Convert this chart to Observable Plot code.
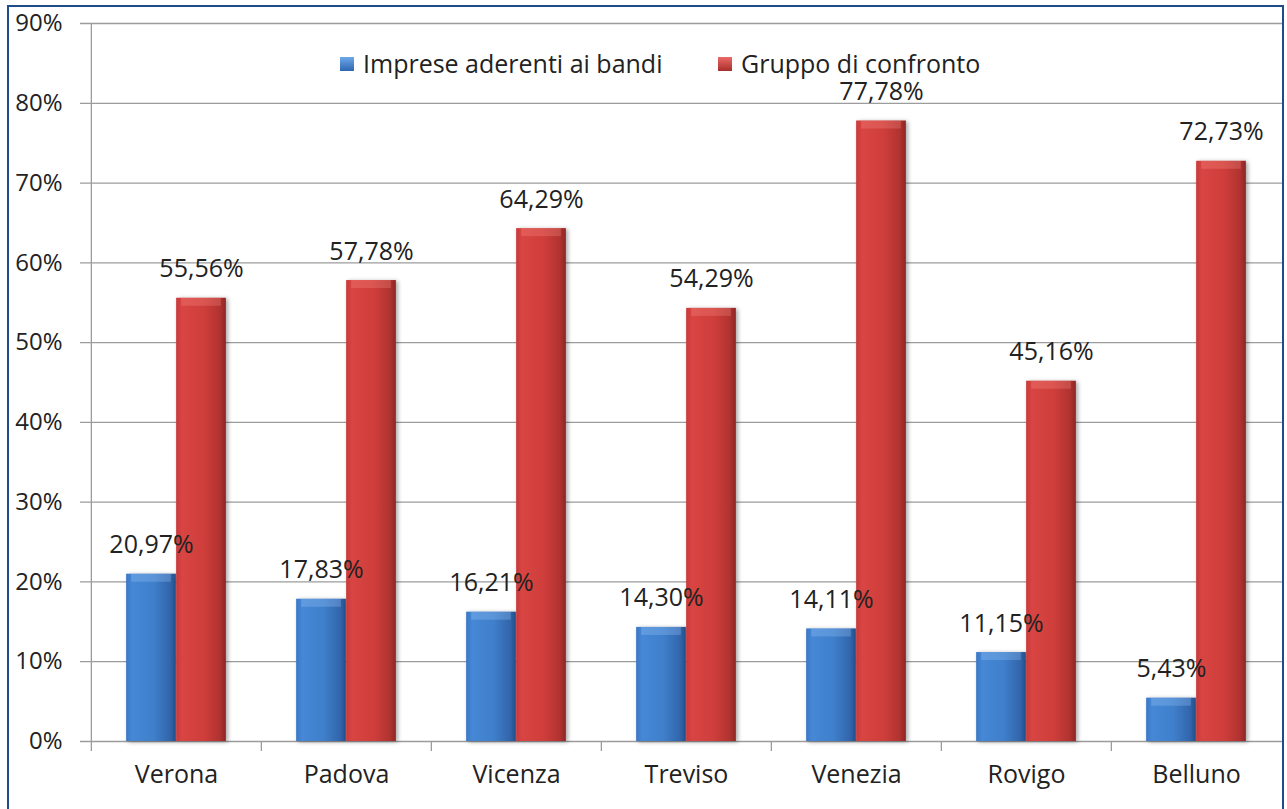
<!DOCTYPE html>
<html><head><meta charset="utf-8">
<script src="https://cdn.jsdelivr.net/npm/d3@7"></script>
<script src="https://cdn.jsdelivr.net/npm/@observablehq/plot@0.6"></script>
<style>
html,body{margin:0;padding:0;background:#fff;}
#wrap{position:relative;width:1287px;height:809px;overflow:hidden;font-family:"Open Sans",sans-serif;}
#frame{position:absolute;left:7px;top:5px;width:1277px;height:830px;border:2px solid #1f4b8a;box-sizing:border-box;}
#chart{position:absolute;left:0;top:0;}
.leg{position:absolute;top:51px;font-size:25px;color:#222;white-space:nowrap;line-height:24px;}
.sw{display:inline-block;width:14px;height:14px;vertical-align:middle;margin-right:9px;position:relative;top:-2px;}
</style></head>
<body>
<svg width="0" height="0" style="position:absolute">
<defs>
<linearGradient id="gBlue" x1="0" x2="1" y1="0" y2="0">
<stop offset="0" stop-color="#3a77c4"/><stop offset="0.12" stop-color="#4688d6"/><stop offset="0.55" stop-color="#3f7fcb"/><stop offset="0.88" stop-color="#3266ac"/><stop offset="1" stop-color="#24508c"/>
</linearGradient>
<linearGradient id="gRed" x1="0" x2="1" y1="0" y2="0">
<stop offset="0" stop-color="#c9393a"/><stop offset="0.12" stop-color="#d84543"/><stop offset="0.55" stop-color="#cf3e3b"/><stop offset="0.88" stop-color="#b03330"/><stop offset="1" stop-color="#8c2624"/>
</linearGradient>
</defs></svg>
<div id="wrap">
<div id="chart"></div>
<div id="frame"></div>
<div class="leg" style="left:340px"><span class="sw" style="background:linear-gradient(#6fa8ea,#2f66b0)"></span><span id="l1"></span></div>
<div class="leg" style="left:718px"><span class="sw" style="background:linear-gradient(#ea6a66,#a82e2b)"></span><span id="l2"></span></div>
</div>
<script>
const categories = ["Verona","Padova","Vicenza","Treviso","Venezia","Rovigo","Belluno"];
const seriesNames = ["Imprese aderenti ai bandi","Gruppo di confronto"];
const imprese = [20.97,17.83,16.21,14.30,14.11,11.15,5.43];
const gruppo = [55.56,57.78,64.29,54.29,77.78,45.16,72.73];
const yTicks = [0,10,20,30,40,50,60,70,80,90];

document.getElementById("l1").textContent = seriesNames[0];
document.getElementById("l2").textContent = seriesNames[1];

const W = 1287, H = 809, ML = 90, MR = 5, MT = 23, MB = 68;
const bw = (W - ML - MR) / categories.length;
const half = bw / 2;
const barW = 50;
const blueRows = categories.map((c, i) => ({cat: c, value: imprese[i]}));
const redRows = categories.map((c, i) => ({cat: c, value: gruppo[i]}));
const fmt = v => v.toFixed(2).replace(".", ",") + "%";
const gridColor = "#9c9c9c";

const chart = Plot.plot({
  width: W, height: H,
  marginLeft: ML, marginRight: MR, marginTop: MT, marginBottom: MB,
  style: {fontFamily: "Open Sans", fontSize: "24px", color: "#222", background: "transparent"},
  x: {domain: categories, padding: 0, label: null},
  y: {domain: [0, 90], label: null},
  marks: [
    Plot.ruleY(yTicks, {stroke: gridColor, strokeWidth: 1.3, insetLeft: -10}),
    Plot.ruleX([categories[0]], {y1: 90, y2: 0, dx: -half, insetBottom: -10, stroke: gridColor, strokeWidth: 1.3}),
    Plot.ruleX(categories.slice(1), {y1: 0, y2: 0, dx: -half, insetBottom: -10, stroke: gridColor, strokeWidth: 1.3}),
    Plot.axisY({ticks: yTicks, tickFormat: d => d + "%", tickSize: 0, tickPadding: 28, fontSize: 24, fill: "#222", label: null}),
    Plot.axisX({tickSize: 0, tickPadding: 24, fontSize: 25, fill: "#222", label: null}),
    Plot.barY(blueRows, {x: "cat", y: "value", fill: "url(#gBlue)", insetLeft: half - barW, insetRight: half, imageFilter: "drop-shadow(2px 1px 2px rgba(0,0,0,0.35))"}),
    Plot.barY(redRows, {x: "cat", y: "value", fill: "url(#gRed)", insetLeft: half, insetRight: half - barW, imageFilter: "drop-shadow(2px 1px 2px rgba(0,0,0,0.35))"}),
    Plot.barY(blueRows, {x: "cat", y1: "value", y2: "value", insetBottom: -8, fill: "#9cc8f7", fillOpacity: 0.3, insetLeft: half - barW + 5, insetRight: half + 5}),
    Plot.barY(redRows, {x: "cat", y1: "value", y2: "value", insetBottom: -8, fill: "#ff9a94", fillOpacity: 0.25, insetLeft: half + 5, insetRight: half - barW + 5}),
    Plot.text(blueRows, {x: "cat", y: "value", text: d => fmt(d.value), dx: -barW / 2, dy: -29, fontSize: 25, fill: "#222"}),
    Plot.text(redRows, {x: "cat", y: "value", text: d => fmt(d.value), dx: barW / 2, dy: -29, fontSize: 25, fill: "#222"})
  ]
});
document.getElementById("chart").appendChild(chart);
</script>
</body></html>
